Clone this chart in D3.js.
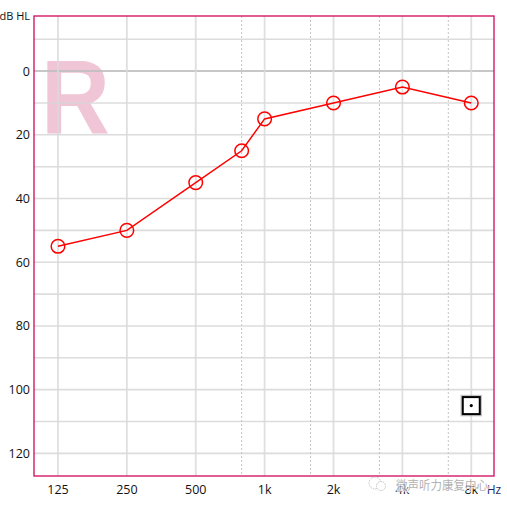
<!DOCTYPE html>
<html><head><meta charset="utf-8">
<script src="https://cdn.jsdelivr.net/npm/d3@7"></script>
<style>html,body{margin:0;padding:0;background:#fff;}svg{display:block;}</style>
</head><body>
<script>
// ---- data ----
const freqs = [125, 250, 500, 750, 1000, 2000, 4000, 8000];
const thresholds = [55, 50, 35, 25, 15, 10, 5, 10];
const octaveFreqs = [125, 250, 500, 1000, 2000, 4000, 8000];
const octaveLabels = ["125", "250", "500", "1k", "2k", "4k", "8k"];
const midFreqs = [750, 1500, 3000, 6000];
const yTicks = [0, 20, 40, 60, 80, 100, 120];
const yGrid = [-10, 0, 10, 20, 30, 40, 50, 60, 70, 80, 90, 100, 110, 120];
const maskFreq = [8000];
const maskLevel = [105];

const W = 507, H = 506;
const L = 34, T = 16, R = 494, B = 476;

// position on the frequency axis in octaves above 125 Hz (mid-octave lines drawn at 2/3 octave)
function octPos(f) {
  const o = Math.log2(f / 125);
  const fl = Math.floor(o + 1e-9);
  return (o - fl > 1e-6) ? fl + 2 / 3 : fl;
}
const x = d3.scaleLinear().domain([-0.348, 6.33]).range([L, R]);
const y = d3.scaleLinear().domain([-17.3, 127.1]).range([T, B]);
const fx = f => x(octPos(f));

const svg = d3.select("body").append("svg").attr("width", W).attr("height", H);

// watermark letter
svg.append("text").attr("transform", "translate(41,134) scale(0.9,1)")
  .attr("font-family", "Liberation Sans, Arial, sans-serif").attr("font-weight", "bold")
  .attr("font-size", 106).attr("fill", "#f0c6d6").text("R");

// grid
const g = svg.append("g");
g.selectAll("line.h").data(yGrid).join("line")
  .attr("x1", L).attr("x2", R).attr("y1", d => y(d)).attr("y2", d => y(d))
  .attr("stroke", d => d === 0 ? "#bdbdbd" : "#d6d6d6").attr("stroke-opacity", 0.85)
  .attr("stroke-width", d => d === 0 ? 2 : 1.6);
g.selectAll("line.v").data(octaveFreqs).join("line")
  .attr("x1", d => fx(d)).attr("x2", d => fx(d)).attr("y1", T).attr("y2", B)
  .attr("stroke", "#d9d9d9").attr("stroke-opacity", 0.85).attr("stroke-width", 1.8);
g.selectAll("line.m").data(midFreqs).join("line")
  .attr("x1", d => fx(d)).attr("x2", d => fx(d)).attr("y1", T).attr("y2", B)
  .attr("stroke", "#c4c4c4").attr("stroke-width", 1).attr("stroke-dasharray", "2,2");

// border
svg.append("rect").attr("x", L).attr("y", T).attr("width", R - L).attr("height", B - T)
  .attr("fill", "none").attr("stroke", "#d31a68").attr("stroke-width", 1.4);

// axis labels
const font = "'Segoe UI', 'Open Sans', 'DejaVu Sans', sans-serif";
svg.selectAll("text.yl").data(yTicks).join("text")
  .attr("x", 30).attr("y", d => y(d) + 4.5).attr("text-anchor", "end")
  .attr("font-family", font).attr("font-size", 12.5).attr("fill", "#111").text(d => d);
svg.append("text").attr("x", 30).attr("y", 20).attr("text-anchor", "end")
  .attr("font-family", font).attr("font-size", 11).attr("fill", "#111").text("dB HL");
svg.selectAll("text.xl").data(octaveFreqs).join("text")
  .attr("x", d => fx(d)).attr("y", 494).attr("text-anchor", "middle")
  .attr("font-family", font).attr("font-size", 12.5).attr("fill", "#111")
  .text((d, i) => octaveLabels[i]);
svg.append("text").attr("x", 494).attr("y", 494).attr("text-anchor", "middle")
  .attr("font-family", font).attr("font-size", 12).attr("fill", "#1a2a6a").text("Hz");

// audiogram line + circles
const pts = freqs.map((f, i) => [fx(f), y(thresholds[i])]);
svg.append("path").attr("d", d3.line()(pts)).attr("fill", "none")
  .attr("stroke", "#ff0000").attr("stroke-width", 1.5);
svg.selectAll("circle.pt").data(pts).join("circle")
  .attr("cx", d => d[0]).attr("cy", d => d[1]).attr("r", 6.8)
  .attr("fill", "none").attr("stroke", "#ff0000").attr("stroke-width", 1.5);

// masked / no-response box symbol
maskFreq.forEach((f, i) => {
  const cx = fx(f), cy = y(maskLevel[i]);
  svg.append("rect").attr("x", cx - 9).attr("y", cy - 9).attr("width", 18).attr("height", 18)
    .attr("fill", "none").attr("stroke", "#999").attr("stroke-width", 3.5).attr("stroke-opacity", 0.6);
  svg.append("rect").attr("x", cx - 8.5).attr("y", cy - 8.5).attr("width", 17).attr("height", 17)
    .attr("fill", "#fff").attr("stroke", "#000").attr("stroke-width", 2);
  svg.append("circle").attr("cx", cx).attr("cy", cy).attr("r", 1.6).attr("fill", "#000");
});

// source watermark
const wm = svg.append("g").attr("opacity", 0.75);
wm.append("circle").attr("cx", 375).attr("cy", 483).attr("r", 6).attr("fill", "none")
  .attr("stroke", "#aaa").attr("stroke-width", 1).attr("stroke-dasharray", "1.5,1");
wm.append("circle").attr("cx", 381).attr("cy", 486).attr("r", 4.5).attr("fill", "#fff")
  .attr("stroke", "#aaa").attr("stroke-width", 1).attr("stroke-dasharray", "1.5,1");
wm.append("text").attr("x", 396).attr("y", 490)
  .attr("font-family", "'Noto Sans CJK SC', sans-serif").attr("font-size", 12)
  .attr("textLength", 92).attr("lengthAdjust", "spacingAndGlyphs")
  .attr("fill", "#999").attr("stroke", "#fff").attr("stroke-width", 2.5).attr("paint-order", "stroke")
  .text("微声听力康复中心");
</script>
</body></html>
